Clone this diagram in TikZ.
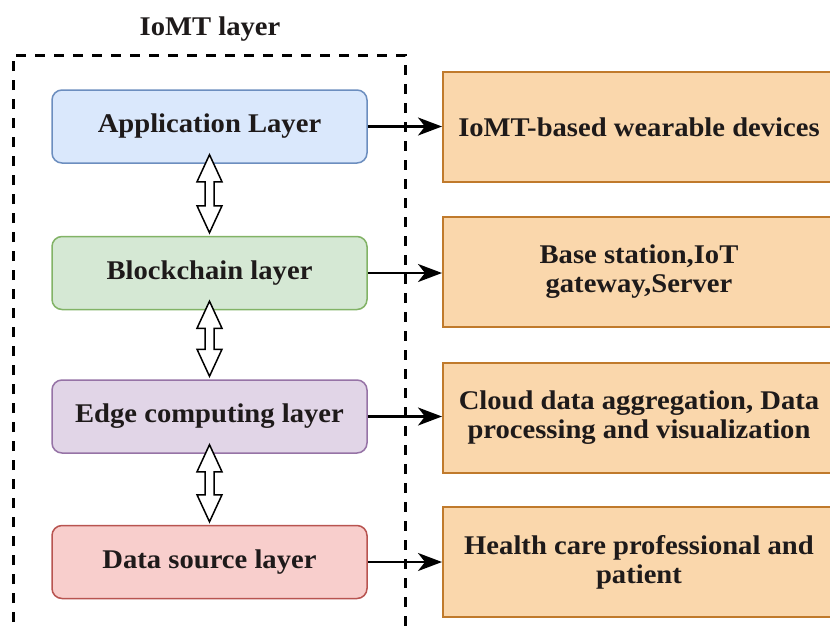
\documentclass[tikz,border=0pt]{standalone}
\usepackage{fontspec}
\setmainfont{Liberation Serif}[FakeStretch=1.06]
\usetikzlibrary{arrows.meta,calc}
\definecolor{txt}{HTML}{1E1A1A}
\definecolor{bluef}{HTML}{DAE8FC}\definecolor{blued}{HTML}{6C8EBF}
\definecolor{greenf}{HTML}{D5E8D4}\definecolor{greend}{HTML}{82B366}
\definecolor{purplef}{HTML}{E1D5E7}\definecolor{purpled}{HTML}{9673A6}
\definecolor{redf}{HTML}{F8CECC}\definecolor{redd}{HTML}{B85450}
\definecolor{orangef}{HTML}{FAD7AC}\definecolor{oranged}{HTML}{C07A2C}
\tikzset{
  txtfont/.style={font=\fontsize{27}{29}\selectfont\bfseries, text=txt},
  layerbox/.style={draw, line width=1.5pt, rounded corners=10pt, minimum width=315pt, minimum height=73pt, txtfont, align=center},
  outbox/.style={draw=oranged, fill=orangef, line width=2pt, minimum width=392pt, minimum height=110pt, txtfont, align=center},
  link/.style={line width=2.5pt, -{Stealth[length=24pt,width=18pt,inset=7pt]}},
  flexarrow/.style={draw=black, fill=white, line width=1.5pt, line join=miter},
  frame/.style={line width=3pt, dash pattern=on 10pt off 9pt}
}
\newcommand\dblarrow[2]{%
  \draw[flexarrow] let \p1=($(#1.south)+(0,-9)$), \p2=($(#2.north)+(0,-3)$) in
   (\x1,\y1) -- (\x1+12.5pt,\y1-27pt) -- (\x1+4.5pt,\y1-27pt) -- (\x1+4.5pt,\y2+27pt)
   -- (\x1+12.5pt,\y2+27pt) -- (\x1,\y2) -- (\x1-12.5pt,\y2+27pt) -- (\x1-4.5pt,\y2+27pt)
   -- (\x1-4.5pt,\y1-27pt) -- (\x1-12.5pt,\y1-27pt) -- cycle;}
\begin{document}
\begin{tikzpicture}[x=1pt,y=-1pt]
\useasboundingbox (0,0) rectangle (830,630);
\clip (0,0) rectangle (830,630);
\fill[white] (0,0) rectangle (830,630);
\node[txtfont] (title) at (210,29) {IoMT layer};
\draw[frame] (13,660) -- (13,55) -- (405,55) -- (405,660);
\node[layerbox, fill=bluef, draw=blued] (app) at (209.5,126.5) {Application Layer};
\node[layerbox, fill=greenf, draw=greend] (bc) at (209.5,273) {Blockchain layer};
\node[layerbox, fill=purplef, draw=purpled] (edge) at (209.5,416.5) {Edge computing layer};
\node[layerbox, fill=redf, draw=redd] (ds) at (209.5,562) {Data source layer};
\node[outbox] (o1) at (639,127) {IoMT-based wearable devices};
\node[outbox] (o2) at (639,272) {Base station,IoT\\gateway,Server};
\node[outbox] (o3) at (639,417.5) {Cloud data aggregation, Data\\processing and visualization};
\node[outbox] (o4) at (639,562) {Health care professional and\\patient};
\draw[link] (app.east) -- (app.east -| o1.west);
\draw[link] (bc.east) -- (bc.east -| o2.west);
\draw[link] (edge.east) -- (edge.east -| o3.west);
\draw[link] (ds.east) -- (ds.east -| o4.west);
\dblarrow{app}{bc}
\dblarrow{bc}{edge}
\dblarrow{edge}{ds}
\end{tikzpicture}
\end{document}
